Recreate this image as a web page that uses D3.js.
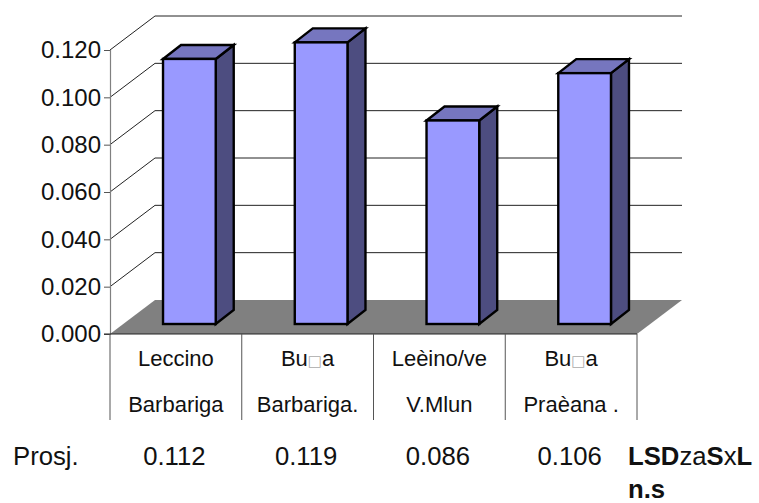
<!DOCTYPE html>
<html>
<head>
<meta charset="utf-8">
<script src="https://d3js.org/d3.v7.min.js"></script>
<style>
html,body{margin:0;padding:0;background:#fff}
svg{display:block}
text{font-family:"Liberation Sans",Arial,sans-serif;fill:#111}
</style>
</head>
<body>
<svg id="chart" width="759" height="503"></svg>
<script>
const categoriesTop = ["Leccino", "Bu\u25A1a", "Le\u00E8ino/ve", "Bu\u25A1a"];
const categoriesBottom = ["Barbariga", "Barbariga.", "V.Mlun", "Pra\u00E8ana ."];
const means = [0.112, 0.119, 0.086, 0.106];
const yTicks = [0, 0.02, 0.04, 0.06, 0.08, 0.10, 0.12];
const rowLabel = "Prosj.";
const axisFont = 24, categoryFont = 22, rowFont = 25.7;

const svg = d3.select("#chart");
const x = d3.scaleBand().domain(d3.range(means.length)).range([110, 637]).paddingInner(0.6).paddingOuter(0.3);
const y = d3.scaleLinear().domain([0, 0.12]).range([334, 50]);
const bandStep = x.step();

// Depth of the box and of each bar in the oblique projection
const wallDx = 45, wallDy = 34;
const barShiftX = 13.5, barShiftY = 10;
const barDx = 18, barDy = 14;
const poly = pts => pts.map(p => p.join(",")).join(" ");

// Floor of the box
svg.append("polygon")
  .attr("points", poly([[110, y(0)], [110 + wallDx, y(0) - wallDy], [637 + wallDx, y(0) - wallDy], [637, y(0)]]))
  .attr("fill", "#808080");

// Gridlines along the side and back walls
const grid = svg.append("g").attr("fill", "none").attr("stroke", "#222").attr("stroke-width", 1);
yTicks.filter(d => d > 0).forEach(d => {
  grid.append("polyline")
    .attr("points", poly([[110, y(d)], [110 + wallDx, y(d) - wallDy], [637 + wallDx, y(d) - wallDy]]));
});

// Value axis
const yAxis = d3.axisLeft(y).tickValues(yTicks).tickFormat(d3.format(".3f")).tickSize(6).tickPadding(3);
const axisG = svg.append("g").attr("transform", "translate(110,0)").call(yAxis);
axisG.select(".domain").attr("stroke", "#808080").attr("stroke-width", 1.2);
axisG.selectAll("line").attr("stroke", "#555");
axisG.selectAll("text").attr("font-size", axisFont).attr("font-family", "Liberation Sans").attr("fill", "#111");

// Bars: side, top, front
const bars = svg.append("g").selectAll("g").data(means).join("g")
  .attr("stroke", "#000").attr("stroke-width", 2.4).attr("stroke-linejoin", "miter");
const barLeft = (d, i) => x(i) + barShiftX;
const barRight = (d, i) => barLeft(d, i) + x.bandwidth();
const barTop = d => y(d) - barShiftY;
const barBase = y(0) - barShiftY;

bars.append("polygon").attr("fill", "#4d4d80")
  .attr("points", (d, i) => poly([[barRight(d, i), barTop(d)], [barRight(d, i) + barDx, barTop(d) - barDy], [barRight(d, i) + barDx, barBase - barDy], [barRight(d, i), barBase]]));
bars.append("polygon").attr("fill", "#7676bf")
  .attr("points", (d, i) => poly([[barLeft(d, i), barTop(d)], [barLeft(d, i) + barDx, barTop(d) - barDy], [barRight(d, i) + barDx, barTop(d) - barDy], [barRight(d, i), barTop(d)]]));
bars.append("rect").attr("fill", "#9999ff")
  .attr("x", barLeft).attr("y", barTop).attr("width", x.bandwidth()).attr("height", d => barBase - barTop(d));

// Baseline and category separators
svg.append("line").attr("x1", 104).attr("x2", 637).attr("y1", y(0)).attr("y2", y(0)).attr("stroke", "#222").attr("stroke-width", 1.2);
svg.append("g").selectAll("line").data(d3.range(means.length + 1)).join("line")
  .attr("x1", i => 110 + i * bandStep).attr("x2", i => 110 + i * bandStep)
  .attr("y1", y(0)).attr("y2", 420)
  .attr("stroke", "#555").attr("stroke-width", 1);

// Category labels and the row of means
const centre = i => 110 + (i + 0.5) * bandStep;
const labels = svg.append("g").attr("text-anchor", "middle").attr("font-size", categoryFont);
const writeLabel = (s, i, yPos) => {
  const t = labels.append("text").attr("x", centre(i)).attr("y", yPos);
  s.split("\u25A1").forEach((part, k) => {
    if (k > 0) t.append("tspan").attr("style", "fill:#aaa;font-family:'DejaVu Sans'").attr("font-size", 15).text("\u25A1");
    t.append("tspan").text(part);
  });
};
categoriesTop.forEach((s, i) => writeLabel(s, i, 366));
categoriesBottom.forEach((s, i) => writeLabel(s, i, 412));
means.forEach((d, i) => labels.append("text").attr("x", centre(i) - 1.5).attr("y", 465).attr("font-size", rowFont).text(d3.format(".3f")(d)));

svg.append("text").attr("x", 13).attr("y", 465).attr("font-size", rowFont).text(rowLabel);

// Significance note at the end of the row
const note = svg.append("text").attr("x", 628).attr("y", 465).attr("font-size", rowFont);
note.append("tspan").attr("font-weight", "bold").text("LSD");
note.append("tspan").text("za");
note.append("tspan").attr("font-weight", "bold").text("S");
note.append("tspan").text("x");
note.append("tspan").attr("font-weight", "bold").text("L");
svg.append("text").attr("x", 628).attr("y", 497.5).attr("font-size", rowFont).attr("font-weight", "bold").text("n.s");
</script>
</body>
</html>
